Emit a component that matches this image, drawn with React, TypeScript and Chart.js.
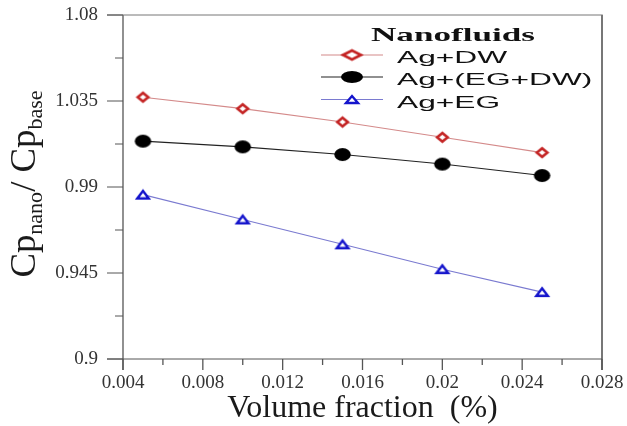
import React, { useEffect, useRef } from "react";
import { Chart, registerables } from "chart.js";

Chart.register(...registerables);

// ---- data ----
const volumeFractions = [0.005, 0.01, 0.015, 0.02, 0.025];
const agDW = [1.037, 1.031, 1.024, 1.016, 1.008];
const agEGDW = [1.014, 1.011, 1.007, 1.002, 0.996];
const agEG = [0.986, 0.973, 0.96, 0.947, 0.935];
const seriesNames = ["Ag+DW", "Ag+(EG+DW)", "Ag+EG"];
const legendTitle = "Nanofluids";

const yTickValues = [0.9, 0.945, 0.99, 1.035, 1.08];
const yTickLabels = ["0.9", "0.945", "0.99", "1.035", "1.08"];
const yMinorTickValues = [0.9225, 0.9675, 1.0125, 1.0575];
const xTickValues = [0.004, 0.008, 0.012, 0.016, 0.02, 0.024, 0.028];
const xTickLabels = ["0.004", "0.008", "0.012", "0.016", "0.02", "0.024", "0.028"];
const xMinorTickValues = [0.006, 0.01, 0.014, 0.018, 0.022, 0.026];
const xTitle = "Volume fraction  (%)";

const SERIF = '"Liberation Serif", "Times New Roman", serif';
const SANS = '"Liberation Sans", Arial, sans-serif';

type Kind = "diamond" | "circle" | "triangle";

function makeMarker(kind: Kind, w: number, h: number): HTMLCanvasElement {
  const pad = 2;
  const c = document.createElement("canvas");
  c.width = Math.ceil(w + pad * 2);
  c.height = Math.ceil(h + pad * 2);
  const g = c.getContext("2d")!;
  const cx = c.width / 2;
  const cy = c.height / 2;
  g.beginPath();
  if (kind === "diamond") {
    g.moveTo(cx - w / 2 + 1, cy);
    g.lineTo(cx, cy - h / 2 + 1);
    g.lineTo(cx + w / 2 - 1, cy);
    g.lineTo(cx, cy + h / 2 - 1);
    g.closePath();
    g.fillStyle = "#ffffff";
    g.fill();
    g.lineWidth = 2.6;
    g.strokeStyle = "#c42424";
    g.stroke();
  } else if (kind === "circle") {
    g.ellipse(cx, cy, w / 2, h / 2, 0, 0, Math.PI * 2);
    g.fillStyle = "#000000";
    g.fill();
  } else {
    g.moveTo(cx - w / 2 + 1, cy + h / 2 - 1);
    g.lineTo(cx, cy - h / 2 + 1);
    g.lineTo(cx + w / 2 - 1, cy + h / 2 - 1);
    g.closePath();
    g.fillStyle = "#ffffff";
    g.fill();
    g.lineWidth = 2.4;
    g.strokeStyle = "#1414cc";
    g.stroke();
  }
  return c;
}

export default function App() {
  const ref = useRef<HTMLCanvasElement | null>(null);

  useEffect(() => {
    if (!ref.current) return;

    const mRed = makeMarker("diamond", 12.5, 10.5);
    const mBlack = makeMarker("circle", 16.5, 13);
    const mBlue = makeMarker("triangle", 13.5, 9.5);
    const lRed = makeMarker("diamond", 20, 11);
    const lBlack = makeMarker("circle", 22, 12);
    const lBlue = makeMarker("triangle", 14, 9);

    const lineColors = ["#d48a8a", "#222222", "#7a7ad0"];

    const pts = (arr: number[]) => volumeFractions.map((x, i) => ({ x, y: arr[i] }));

    const framePlugin = {
      id: "framePlugin",
      afterDraw(chart: any) {
        const { ctx, chartArea: a, scales } = chart;
        const xs = scales.x;
        const ys = scales.y;
        ctx.save();
        ctx.strokeStyle = "#555555";
        const line = (x1: number, y1: number, x2: number, y2: number, lw: number) => {
          ctx.lineWidth = lw;
          ctx.beginPath();
          ctx.moveTo(x1, y1);
          ctx.lineTo(x2, y2);
          ctx.stroke();
        };
        // frame
        line(a.left, a.top, a.left, a.bottom + 11, 1.3);
        line(a.right, a.top, a.right, a.bottom + 11, 1.6);
        line(a.left - 16, a.bottom, a.right, a.bottom, 1);
        ctx.strokeStyle = "#777777";
        line(a.left - 16, a.top, a.right + 0.8, a.top, 1);
        ctx.strokeStyle = "#555555";
        // y ticks
        yTickValues.forEach((v) => {
          const py = ys.getPixelForValue(v);
          line(a.left - 16, py, a.left, py, 1);
        });
        yMinorTickValues.forEach((v) => {
          const py = ys.getPixelForValue(v);
          line(a.left - 8, py, a.left, py, 1);
        });
        xTickValues.forEach((v) => {
          const px = xs.getPixelForValue(v);
          line(px, a.bottom, px, a.bottom + 11, 1.3);
        });
        xMinorTickValues.forEach((v) => {
          const px = xs.getPixelForValue(v);
          line(px, a.bottom, px, a.bottom + 6, 1.3);
        });

        // x title
        ctx.fillStyle = "#1a1a1a";
        ctx.font = `32px ${SERIF}`;
        ctx.textAlign = "center";
        ctx.textBaseline = "alphabetic";
        ctx.fillText(xTitle, (a.left + a.right) / 2, 417);

        // y title with subscripts
        const segs = [
          { t: "Cp", s: 35, dy: 0 },
          { t: "nano", s: 21, dy: 7 },
          { t: "/ ", s: 35, dy: 0 },
          { t: "Cp", s: 35, dy: 0 },
          { t: "base", s: 21, dy: 7 },
        ];
        let total = 0;
        const widths = segs.map((sg) => {
          ctx.font = `${sg.s}px ${SERIF}`;
          const w = ctx.measureText(sg.t).width;
          total += w;
          return w;
        });
        ctx.save();
        ctx.translate(35, 184);
        ctx.rotate(-Math.PI / 2);
        ctx.scale(1.05, 1);
        ctx.textAlign = "left";
        let xx = -total / 2;
        segs.forEach((sg, i) => {
          ctx.font = `${sg.s}px ${SERIF}`;
          ctx.fillText(sg.t, xx, sg.dy);
          xx += widths[i];
        });
        ctx.restore();

        // legend
        const drawStretched = (text: string, x: number, y: number, sx: number, align: CanvasTextAlign) => {
          ctx.save();
          ctx.translate(x, y);
          ctx.scale(sx, 1);
          ctx.textAlign = align;
          ctx.fillText(text, 0, 0);
          ctx.restore();
        };
        ctx.fillStyle = "#111111";
        ctx.font = `bold 19px ${SERIF}`;
        drawStretched(legendTitle, 453, 41, 1.85, "center");

        const rowsY = [55, 77, 99.5];
        const lmarks = [lRed, lBlack, lBlue];
        ctx.font = `16px ${SANS}`;
        rowsY.forEach((ry, i) => {
          ctx.strokeStyle = lineColors[i];
          line(321, ry, 383, ry, 1.2);
          const m = lmarks[i];
          ctx.drawImage(m, 352 - m.width / 2, ry - m.height / 2);
          ctx.fillStyle = "#111111";
          drawStretched(seriesNames[i], 397, ry + 8, 1.98, "left");
        });
        ctx.restore();
      },
    };

    const chart = new Chart(ref.current, {
      type: "line",
      data: {
        datasets: [
          {
            label: seriesNames[0],
            data: pts(agDW),
            borderColor: lineColors[0],
            borderWidth: 1.1,
            pointStyle: mRed as any,
            tension: 0,
          },
          {
            label: seriesNames[1],
            data: pts(agEGDW),
            borderColor: lineColors[1],
            borderWidth: 1.1,
            pointStyle: mBlack as any,
            tension: 0,
          },
          {
            label: seriesNames[2],
            data: pts(agEG),
            borderColor: lineColors[2],
            borderWidth: 1.1,
            pointStyle: mBlue as any,
            tension: 0,
          },
        ],
      },
      options: {
        responsive: false,
        animation: false,
        events: [],
        layout: { padding: { top: 15, right: 25, left: 0, bottom: 0 } },
        plugins: {
          legend: { display: false },
          tooltip: { enabled: false },
          title: { display: false },
        },
        scales: {
          x: {
            type: "linear",
            min: 0.004,
            max: 0.028,
            grid: { display: false, drawTicks: false },
            border: { display: false },
            afterBuildTicks: (scale: any) => {
              scale.ticks = xTickValues.map((v) => ({ value: v }));
            },
            afterFit: (scale: any) => {
              scale.height = 67;
              scale.paddingLeft = 0;
              scale.paddingRight = 0;
              scale.paddingTop = 0;
              scale.paddingBottom = 0;
            },
            ticks: {
              autoSkip: false,
              maxRotation: 0,
              padding: 13,
              color: "#333333",
              font: { family: SERIF, size: 19 },
              callback: (_v: any, i: number) => xTickLabels[i],
            },
          },
          y: {
            type: "linear",
            min: 0.9,
            max: 1.08,
            grid: { display: false, drawTicks: false },
            border: { display: false },
            afterBuildTicks: (scale: any) => {
              scale.ticks = yTickValues.map((v) => ({ value: v }));
            },
            afterFit: (scale: any) => {
              scale.width = 123;
              scale.paddingLeft = 0;
              scale.paddingRight = 0;
              scale.paddingTop = 0;
              scale.paddingBottom = 0;
            },
            ticks: {
              autoSkip: false,
              padding: 25,
              color: "#333333",
              font: { family: SERIF, size: 19 },
              callback: (_v: any, i: number) => yTickLabels[i],
            },
          },
        },
      },
      plugins: [framePlugin],
    });

    return () => chart.destroy();
  }, []);

  return (
    <div style={{ position: "absolute", left: 0, top: 0, width: 627, height: 426, background: "#ffffff" }}>
      <canvas ref={ref} width={627} height={426} />
    </div>
  );
}
